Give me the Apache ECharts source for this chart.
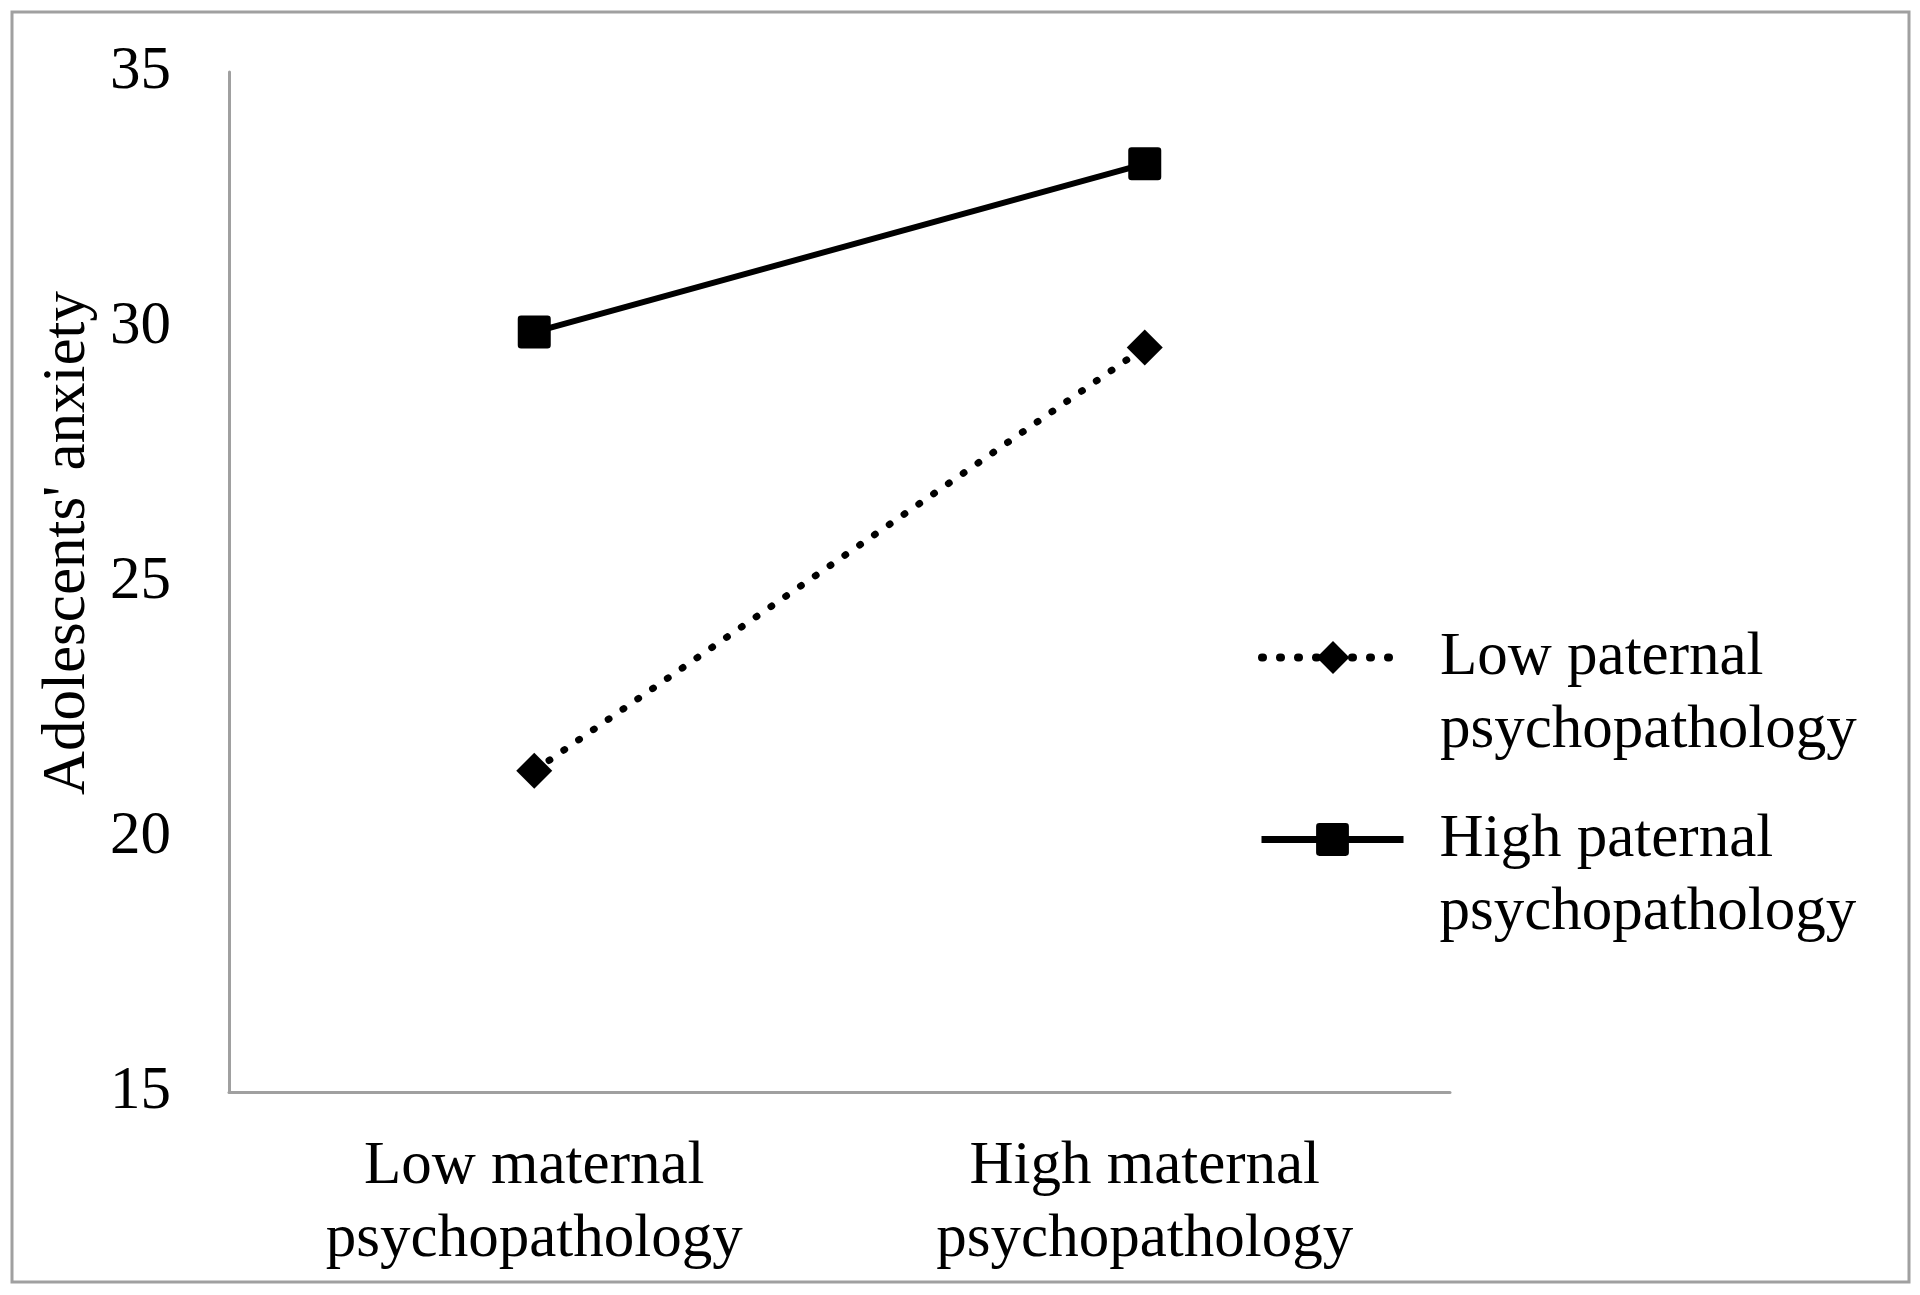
<!DOCTYPE html>
<html>
<head>
<meta charset="utf-8">
<script src="https://cdn.jsdelivr.net/npm/echarts@6/dist/echarts.min.js"></script>
<style>
  html, body { margin: 0; padding: 0; background: #fff; }
  #chart { width: 1920px; height: 1295px; }
</style>
</head>
<body>
<div id="chart"></div>
<script>
const categories = ['Low maternal\npsychopathology', 'High maternal\npsychopathology'];
const seriesNames = ['Low paternal\npsychopathology', 'High paternal\npsychopathology'];
const lowPaternal = [21.3, 29.6];
const highPaternal = [29.9, 33.2];
const yMin = 15;
const yMax = 35;
const yStep = 5;
const yTitle = "Adolescents' anxiety";

const FONT = 'Liberation Serif';
const AXIS_GRAY = '#a0a0a0';
// rounded square like the Excel marker
const roundSquare = 'path://M1,0H9A1,1 0 0 1 10,1V9A1,1 0 0 1 9,10H1A1,1 0 0 1 0,9V1A1,1 0 0 1 1,0Z';
const dotted = { color: '#000', width: 7, type: [1, 17], cap: 'round' };
const solid = { color: '#000', width: 6 };

const chart = echarts.init(document.getElementById('chart'));

// one legend per series so the symbol sits on the first text line
const makeLegend = (name, top, lineStyle) => ({
    orient: 'vertical',
    left: 1258,
    top: top,
    padding: 0,
    itemWidth: 142,
    itemHeight: 41,
    selectedMode: false,
    data: [name],
    // leading blank line pushes the label down so line 1 lines up with the icon
    formatter: n => '\n' + n,
    lineStyle: Object.assign({}, lineStyle, { width: lineStyle.width + 1 }),
    textStyle: {
        fontFamily: FONT,
        fontSize: 61,
        lineHeight: 73,
        color: '#000',
        padding: [0, 0, 0, 31]
    }
});

const option = {
    animation: false,
    backgroundColor: '#fff',
    textStyle: { fontFamily: FONT },
    grid: { left: 229, top: 72, right: 470, bottom: 203, containLabel: false },
    legend: [
        makeLegend(seriesNames[0], 548, dotted),
        makeLegend(seriesNames[1], 730, solid)
    ],
    xAxis: {
        type: 'category',
        data: categories,
        boundaryGap: true,
        axisTick: { show: false },
        axisLine: { lineStyle: { color: AXIS_GRAY, width: 3 } },
        axisLabel: {
            color: '#000',
            fontFamily: FONT,
            fontSize: 61,
            lineHeight: 73,
            margin: 38
        }
    },
    yAxis: {
        type: 'value',
        min: yMin,
        max: yMax,
        interval: yStep,
        name: yTitle,
        nameLocation: 'middle',
        nameGap: 131,
        nameTextStyle: {
            color: '#000',
            fontFamily: FONT,
            fontSize: 61,
            padding: [0, 0, 0, 78]
        },
        axisTick: { show: false },
        splitLine: { show: false },
        axisLine: { show: true, lineStyle: { color: AXIS_GRAY, width: 3 } },
        axisLabel: {
            color: '#000',
            fontFamily: FONT,
            fontSize: 61,
            margin: 58
        }
    },
    graphic: [{
        type: 'rect',
        shape: { x: 12, y: 12, width: 1897, height: 1270 },
        style: { fill: 'none', stroke: AXIS_GRAY, lineWidth: 3 },
        silent: true
    }],
    series: [
        {
            name: seriesNames[0],
            type: 'line',
            data: lowPaternal,
            symbol: 'diamond',
            symbolSize: 36,
            itemStyle: { color: '#000' },
            lineStyle: dotted,
            emphasis: { disabled: true }
        },
        {
            name: seriesNames[1],
            type: 'line',
            data: highPaternal,
            symbol: roundSquare,
            symbolSize: 33,
            itemStyle: { color: '#000' },
            lineStyle: solid,
            emphasis: { disabled: true }
        }
    ]
};

chart.setOption(option);
</script>
</body>
</html>
